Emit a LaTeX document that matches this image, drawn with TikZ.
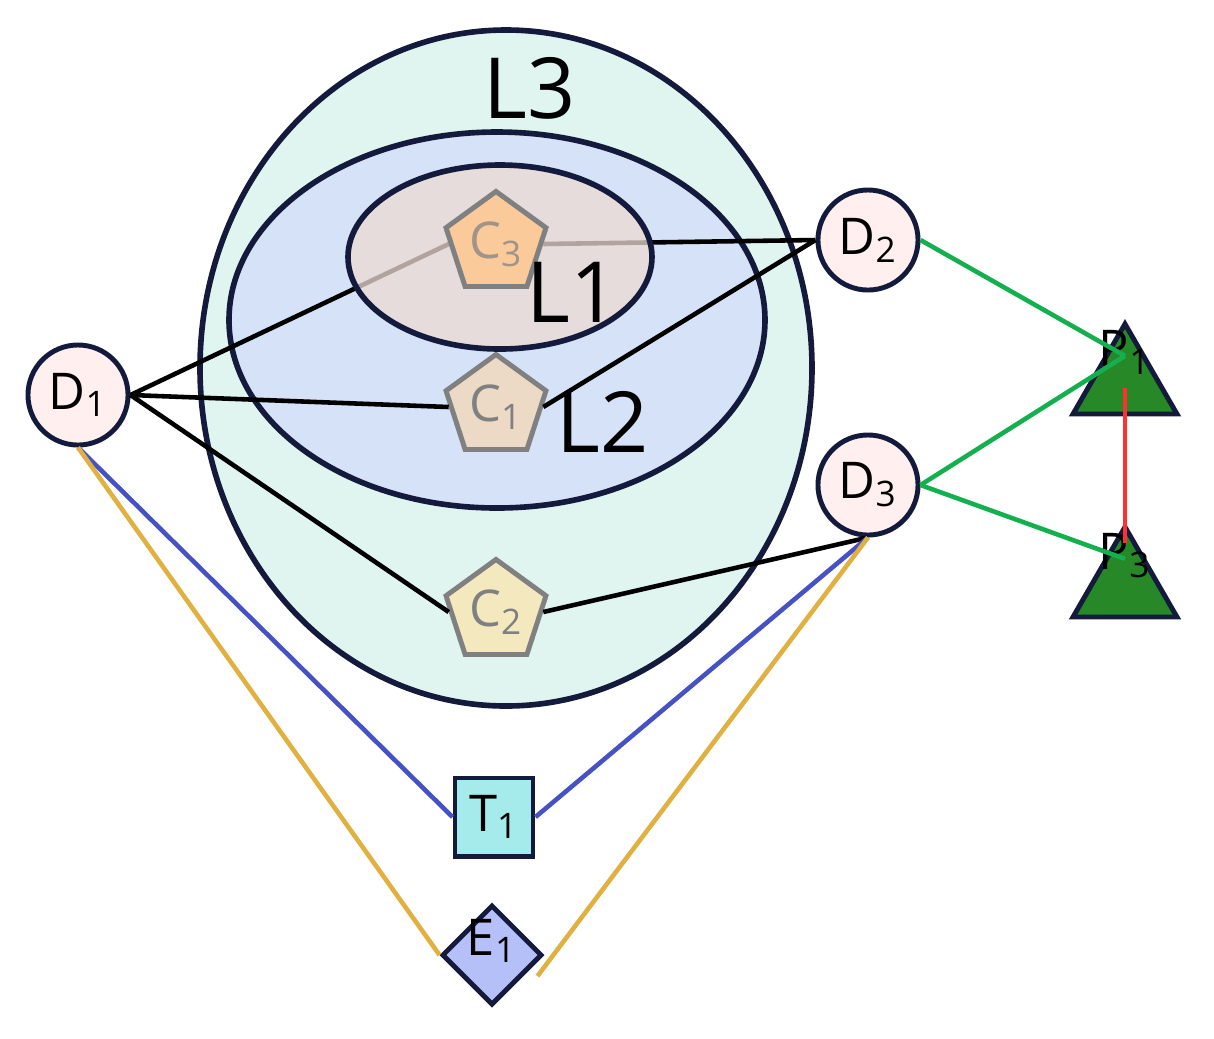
\documentclass[tikz,border=0pt]{standalone}
\usepackage{fontspec}
\setmainfont{Open Sans}
\usetikzlibrary{shapes.geometric}
\definecolor{lthree}{HTML}{E0F4F0}
\definecolor{ltwo}{HTML}{D6E2F7}
\definecolor{lone}{HTML}{EDDAD3}
\definecolor{navy}{HTML}{141A3C}
\definecolor{gold}{HTML}{E0B040}
\definecolor{tblue}{HTML}{4652C4}
\definecolor{pgreen}{HTML}{14B050}
\newcommand{\nobox}[1]{\smash{\makebox[0pt]{#1}}}
\begin{document}
\begin{tikzpicture}[x=0.01cm,y=-0.01cm]
        \tikzset{layer/.style = {draw=navy, line width=1.6pt}}
        \tikzset{dnode/.style = {shape=circle, draw=navy, line width=1.4pt, fill=pink!25, minimum size=1cm, inner sep=0pt, font=\Large}}
        \tikzset{cnode/.style = {shape=regular polygon, regular polygon sides=5, draw=gray, line width=1.4pt, minimum size=1.05cm, inner sep=0pt, font=\Large, text=gray}}
        \tikzset{pnode/.style = {shape=regular polygon, regular polygon sides=3, draw=navy, line width=1.4pt, fill=green!45!black!85, minimum size=1.2cm, inner sep=0pt, font=\Large}}
        \tikzset{edge/.style = {line width=1.3pt}}
        \useasboundingbox (0,0) rectangle (1214,1038);
        % layers
        \draw[layer, fill=lthree] (506,368) ellipse (306 and 338);
        \draw[layer, fill=ltwo] (497,320) ellipse (268 and 188);
        \node[font=\fontsize{24}{24}\selectfont] (l3) at (530,88) {L3};
        % vertices
        \node[dnode] (d1) at (78,395) {D\textsubscript{1}};
        \node[dnode] (d2) at (868,240) {D\textsubscript{2}};
        \node[dnode] (d3) at (868,485) {D\textsubscript{3}};
        \node[cnode, fill=orange!45] (c3) at (496,244) {C\textsubscript{3}};
        \node[cnode, fill=brown!30] (c1) at (496,407) {C\textsubscript{1}};
        \node[cnode, fill=yellow!40!brown!30] (c2) at (496,612) {C\textsubscript{2}};
        \node[pnode] (p1) at (1125,384) {\raisebox{10pt}{\nobox{P\textsubscript{1}}}};
        \node[pnode] (p3) at (1125,587) {\raisebox{10pt}{\nobox{P\textsubscript{3}}}};
        \node[draw=navy, line width=1.4pt, fill=teal!45!cyan!35, minimum size=0.78cm, inner sep=0pt, font=\Large] (t1) at (494,817) {T\textsubscript{1}};
        \node[shape=diamond, draw=navy, line width=1.4pt, fill=ltwo!85!blue, minimum size=1cm, inner sep=0pt, font=\Large] (e1) at (492,955) {\nobox{E\textsubscript{1}}};

        %edges
        \draw[edge] (d1.east) -- (c3.west);
        \draw[edge] (d1.east) -- (c1.west);
        \draw[edge] (d1.east) -- (c2.west);
        \draw[edge] (c3.east) -- (d2.west);
        \draw[edge] (c1.east) -- (d2.west);
        \draw[edge] (c2.east) -- (d3.south);
        \draw[edge, tblue] (d1.south) -- (t1.west);
        \draw[edge, tblue] (d3.south) -- (t1.east);
        \draw[edge, gold] (d1.south) -- (e1.west);
        \draw[edge, gold] (d3.south) -- ([xshift=-2pt,yshift=-6pt]e1.east);
        \draw[edge, pgreen] (d2.east) -- ([yshift=8pt]p1.center);
        \draw[edge, pgreen] (d3.east) -- ([yshift=8pt]p1.center);
        \draw[edge, pgreen] (d3.east) -- ([yshift=8pt]p3.center);
        \draw[edge, red!75!pink] ([yshift=-1pt]p1.center) -- ([yshift=-6pt]p3.north);

        % inner layer on top
        \draw[layer, fill=lone, fill opacity=0.75] (500,257) ellipse (152 and 92);
        \node[cnode, fill=orange!45, fill opacity=0.7] at (496,244) {C\textsubscript{3}};
        \node[font=\fontsize{24}{24}\selectfont] (l1) at (573,292) {L1};
        \node[font=\fontsize{24}{24}\selectfont] (l2) at (603,422) {L2};
    \end{tikzpicture}
\end{document}
